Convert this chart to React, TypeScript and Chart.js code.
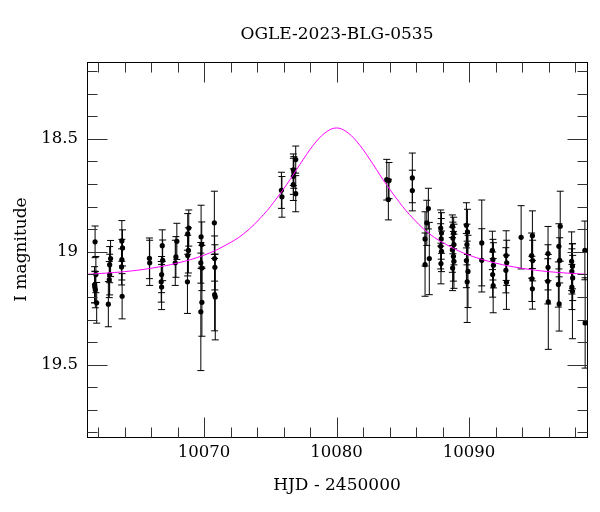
import { useEffect, useRef } from "react";
import { Chart, registerables } from "chart.js";

Chart.register(...registerables);

const TITLE = "OGLE-2023-BLG-0535";
const X_TITLE = "HJD - 2450000";
const Y_TITLE = "I magnitude";

const X_MIN = 10061.17;
const X_MAX = 10098.9;
const Y_MIN = 18.16;
const Y_MAX = 19.82;

const xMajorTicks = [10070, 10080, 10090];
const xMinorTicks = [10062, 10064, 10066, 10068, 10072, 10074, 10076, 10078, 10082, 10084, 10086, 10088, 10092, 10094, 10096, 10098];
const yMajorTicks = [18.5, 19, 19.5];
const yMinorTicks = [18.2, 18.3, 18.4, 18.6, 18.7, 18.8, 18.9, 19.1, 19.2, 19.3, 19.4, 19.6, 19.7, 19.8];

// Observations (HJD - 2450000)
const hjd = [
  10061.78, 10061.84, 10061.74, 10061.76, 10061.8, 10061.9,
  10062.95, 10062.88, 10062.88, 10062.85, 10062.78,
  10063.8, 10063.85, 10063.8, 10063.78, 10063.82,
  10065.88, 10065.9,
  10066.85, 10066.88, 10066.8, 10066.77, 10066.8,
  10067.95, 10067.88, 10067.83,
  10068.85, 10068.77, 10068.82, 10068.77, 10068.75,
  10069.78, 10069.83, 10069.76, 10069.84, 10069.84, 10069.76,
  10070.78, 10070.8, 10070.82, 10070.8, 10070.85,
  10075.84, 10075.88,
  10076.92, 10076.74, 10076.78, 10076.74, 10076.74, 10076.92,
  10083.79, 10083.96, 10083.91,
  10085.72, 10085.72,
  10086.93, 10086.81, 10086.68, 10087.0, 10086.68,
  10087.86, 10087.92, 10087.9, 10087.86, 10087.92, 10087.88,
  10088.74, 10088.84, 10088.78, 10088.86, 10088.74, 10088.82, 10088.86, 10088.76,
  10089.8, 10089.88, 10089.84, 10089.8, 10089.92, 10089.86,
  10090.96, 10090.96,
  10091.76, 10091.8, 10091.84, 10091.78, 10091.82,
  10092.8, 10092.84, 10092.78, 10092.82,
  10093.93,
  10094.78, 10094.72, 10094.8, 10094.74, 10094.78,
  10095.96, 10095.96, 10095.94, 10095.98,
  10096.88, 10096.78, 10096.84, 10096.74, 10096.8,
  10097.74, 10097.8, 10097.76, 10097.82, 10097.76, 10097.8,
  10098.74, 10098.76,
];

// I magnitudes
const mag = [
  18.956, 19.101, 19.146, 19.156, 19.168, 19.226,
  19.03, 19.057, 19.101, 19.123, 19.232,
  18.952, 18.983, 19.035, 19.067, 19.197,
  19.029, 19.049,
  18.973, 19.038, 19.101, 19.133, 19.156,
  18.954, 19.023, 19.049,
  18.895, 18.921, 18.994, 19.017, 19.133,
  18.934, 18.968, 19.049, 19.072, 19.224, 19.266,
  18.872, 19.03, 19.069, 19.19, 19.2,
  18.728, 18.757,
  18.592, 18.637, 18.649, 18.666, 18.703, 18.743,
  18.681, 18.685, 18.769,
  18.673, 18.729,
  18.809, 18.872, 18.943, 19.03, 19.057,
  18.895, 18.917, 18.943, 18.976, 18.998, 19.052,
  18.887, 18.917, 18.939, 18.968, 18.991, 19.02, 19.042, 19.072,
  18.883, 18.912, 18.968, 19.039, 19.087, 19.133,
  18.961, 19.038,
  18.994, 19.035, 19.06, 19.101, 19.15,
  19.017, 19.049, 19.082, 19.135,
  18.936,
  18.929, 19.017, 19.039, 19.12, 19.164,
  19.008, 19.069, 19.131, 19.222,
  18.887, 18.976, 19.038, 19.145, 19.231,
  19.042, 19.064, 19.087, 19.116, 19.156, 19.175,
  18.994, 19.315,
];

// Magnitude errors
const magErr = [
  0.07, 0.08, 0.08, 0.07, 0.08, 0.09,
  0.08, 0.08, 0.09, 0.08, 0.1,
  0.09, 0.08, 0.09, 0.08, 0.1,
  0.09, 0.1,
  0.07, 0.09, 0.08, 0.09, 0.1,
  0.08, 0.09, 0.1,
  0.08, 0.09, 0.1, 0.09, 0.14,
  0.14, 0.1, 0.09, 0.1, 0.15, 0.26,
  0.14, 0.1, 0.1, 0.16, 0.19,
  0.08, 0.09,
  0.06, 0.07, 0.07, 0.08, 0.07, 0.08,
  0.09, 0.08, 0.09,
  0.11, 0.09,
  0.09, 0.1, 0.12, 0.16, 0.14,
  0.08, 0.09, 0.09, 0.1, 0.09, 0.09,
  0.05, 0.07, 0.07, 0.09, 0.1, 0.11, 0.12, 0.1,
  0.1, 0.1, 0.09, 0.12, 0.16, 0.18,
  0.19, 0.14,
  0.085, 0.09, 0.1, 0.1, 0.12,
  0.11, 0.1, 0.1, 0.12,
  0.14,
  0.11, 0.1, 0.09, 0.1, 0.09,
  0.12, 0.1, 0.1, 0.21,
  0.155, 0.1, 0.1, 0.1, 0.12,
  0.13, 0.1, 0.1, 0.1, 0.1, 0.21,
  0.13, 0.2,
];

// Model curve
const modelHjd = [
  10061.17, 10064, 10066, 10068, 10070, 10071.5, 10073, 10074.5, 10075.5, 10076.5, 10077.5, 10078.5, 10079.3,
  10080, 10080.7, 10081.5, 10082.5, 10083.5, 10084.5, 10085.5, 10087, 10088.5, 10090, 10092, 10094, 10096, 10098.9,
];
const modelMag = [
  19.1, 19.088, 19.073, 19.05, 19.015, 18.975, 18.92, 18.835, 18.762, 18.68, 18.59, 18.51, 18.467,
  18.452, 18.467, 18.51, 18.59, 18.68, 18.762, 18.835, 18.92, 18.975, 19.015, 19.05, 19.073, 19.088, 19.1,
];

const FONT = "'DejaVu Serif', serif";

export default function App() {
  const ref = useRef<HTMLCanvasElement>(null);

  useEffect(() => {
    document.body.style.margin = "0";
    const canvas = ref.current;
    if (!canvas) return;

    const errorBars = {
      id: "errorBars",
      beforeDatasetsDraw(chart: any) {
        const { ctx, chartArea: a, scales } = chart;
        const xs = scales.x;
        const ys = scales.y;
        ctx.save();
        ctx.beginPath();
        ctx.rect(a.left, a.top, a.right - a.left, a.bottom - a.top);
        ctx.clip();
        ctx.strokeStyle = "#000";
        ctx.lineWidth = 1;
        for (let i = 0; i < hjd.length; i++) {
          const px = xs.getPixelForValue(hjd[i]);
          const y1 = ys.getPixelForValue(mag[i] - magErr[i]);
          const y2 = ys.getPixelForValue(mag[i] + magErr[i]);
          ctx.beginPath();
          ctx.moveTo(px, y1);
          ctx.lineTo(px, y2);
          ctx.moveTo(px - 3.5, y1);
          ctx.lineTo(px + 3.5, y1);
          ctx.moveTo(px - 3.5, y2);
          ctx.lineTo(px + 3.5, y2);
          ctx.stroke();
        }
        ctx.restore();
      },
    };

    const frame = {
      id: "frame",
      afterDraw(chart: any) {
        const { ctx, chartArea: a, scales } = chart;
        const xs = scales.x;
        const ys = scales.y;
        const L = Math.round(a.left) + 0.5;
        const R = Math.round(a.right) + 0.5;
        const T = Math.round(a.top) + 0.5;
        const B = Math.round(a.bottom) + 0.5;
        ctx.save();
        ctx.strokeStyle = "#000";
        ctx.lineWidth = 1;
        ctx.strokeRect(L, T, R - L, B - T);
        ctx.strokeStyle = "#333";
        const drawX = (v: number, len: number) => {
          const p = Math.round(xs.getPixelForValue(v)) + 0.5;
          ctx.beginPath();
          ctx.moveTo(p, B);
          ctx.lineTo(p, B - len);
          ctx.moveTo(p, T);
          ctx.lineTo(p, T + len);
          ctx.stroke();
        };
        const drawY = (v: number, len: number) => {
          const p = Math.round(ys.getPixelForValue(v)) + 0.5;
          ctx.beginPath();
          ctx.moveTo(L, p);
          ctx.lineTo(L + len, p);
          ctx.moveTo(R, p);
          ctx.lineTo(R - len, p);
          ctx.stroke();
        };
        xMajorTicks.forEach((v) => drawX(v, 20));
        xMinorTicks.forEach((v) => drawX(v, 10));
        yMajorTicks.forEach((v) => drawY(v, 20));
        yMinorTicks.forEach((v) => drawY(v, 10));
        ctx.restore();
      },
    };

    const chart = new Chart(canvas, {
      type: "scatter",
      data: {
        datasets: [
          {
            label: "model",
            data: modelHjd.map((x, i) => ({ x, y: modelMag[i] })),
            showLine: true,
            borderColor: "#ff00ff",
            borderWidth: 1,
            pointRadius: 0,
            tension: 0.4,
            order: 0,
          } as any,
          {
            label: "data",
            data: hjd.map((x, i) => ({ x, y: mag[i] })),
            pointRadius: 2.6,
            pointBackgroundColor: "#000",
            pointBorderWidth: 0,
            backgroundColor: "#000",
            borderColor: "#000",
            order: 1,
          },
        ],
      },
      options: {
        animation: false,
        responsive: false,
        events: [],
        layout: { padding: { left: 0, right: 13, top: 0, bottom: 0 } },
        plugins: {
          legend: { display: false },
          tooltip: { enabled: false },
          title: {
            display: true,
            fullSize: false,
            text: TITLE,
            color: "#000",
            font: { family: FONT, size: 17, weight: "normal" },
            padding: { top: 24.8, bottom: 16.8 },
          },
        },
        scales: {
          x: {
            type: "linear",
            min: X_MIN,
            max: X_MAX,
            grid: { display: false, drawTicks: false },
            border: { display: false },
            ticks: {
              stepSize: 10,
              includeBounds: false,
              autoSkip: false,
              maxRotation: 0,
              color: "#000",
              font: { family: FONT, size: 16.5 },
              padding: 6,
              callback: (v: any) => String(v),
            },
            title: {
              display: true,
              text: X_TITLE,
              color: "#000",
              font: { family: FONT, size: 17 },
              padding: { top: 0, bottom: 16 },
            },
            afterFit: (s: any) => {
              s.height = 75;
            },
          },
          y: {
            type: "linear",
            reverse: true,
            min: Y_MIN,
            max: Y_MAX,
            grid: { display: false, drawTicks: false },
            border: { display: false },
            ticks: {
              stepSize: 0.5,
              includeBounds: false,
              autoSkip: false,
              color: "#000",
              font: { family: FONT, size: 16.5 },
              padding: 9,
              callback: (v: any) => String(v),
            },
            title: {
              display: true,
              text: Y_TITLE,
              color: "#000",
              font: { family: FONT, size: 17 },
              padding: { top: 11.8, bottom: 0 },
            },
            afterFit: (s: any) => {
              s.width = 87;
            },
          },
        },
      } as any,
      plugins: [errorBars, frame],
    });

    return () => chart.destroy();
  }, []);

  return (
    <div style={{ position: "absolute", left: 0, top: 0, width: 600, height: 512 }}>
      <canvas ref={ref} width={600} height={512} style={{ width: 600, height: 512, display: "block" }} />
    </div>
  );
}
